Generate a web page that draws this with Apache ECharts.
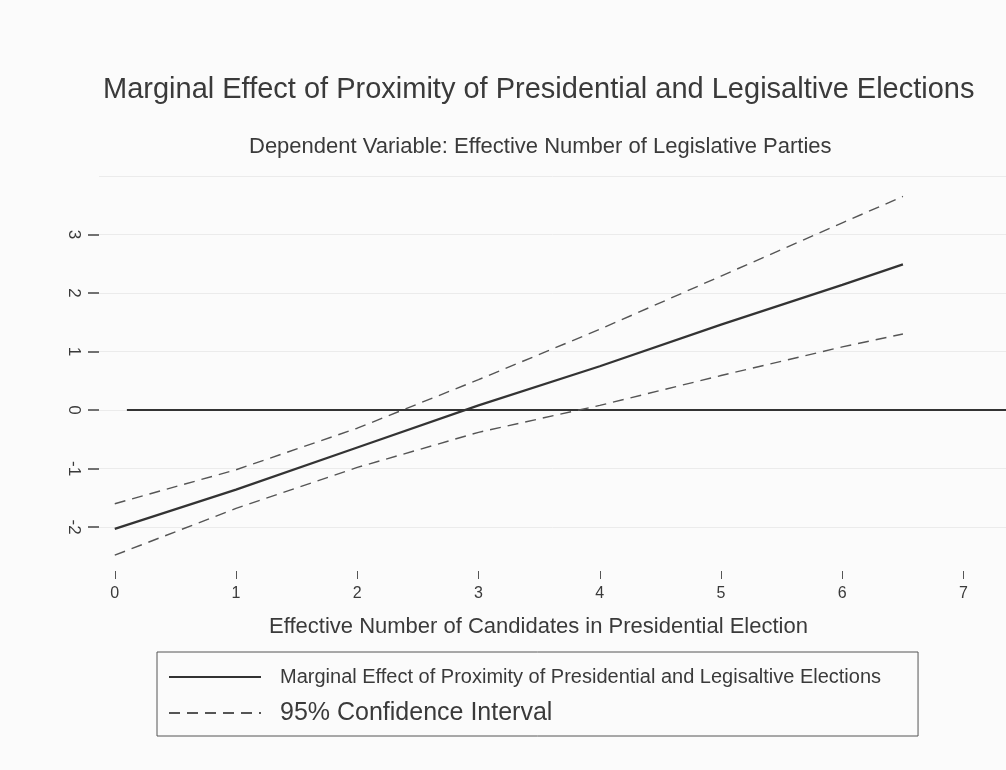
<!DOCTYPE html>
<html>
<head>
<meta charset="utf-8">
<script src="https://cdn.jsdelivr.net/npm/echarts@6/dist/echarts.min.js"></script>
<style>
  html, body { margin: 0; padding: 0; background: #fbfbfb; }
  #chart { width: 1006px; height: 770px; }
</style>
</head>
<body>
<div id="chart"></div>
<script>
// values
var xVals = [0, 1, 2, 3, 4, 5, 6, 6.5];
var effect = [-2.03, -1.36, -0.64, 0.08, 0.75, 1.46, 2.14, 2.49];
var upper = [-1.60, -1.02, -0.31, 0.52, 1.38, 2.29, 3.20, 3.65];
var lower = [-2.48, -1.68, -0.98, -0.38, 0.08, 0.59, 1.08, 1.30];
var zeroX = [0.1, 7.35];
var xTicks = [0, 1, 2, 3, 4, 5, 6, 7];
var yTicks = [-2, -1, 0, 1, 2, 3];
var gridVals = [-2, -1, 0, 1, 2, 3, 4];

var effectName = 'Marginal Effect of Proximity of Presidential and Legisaltive Elections';
var ciName = '95% Confidence Interval';

function pairs(xs, ys) {
  return xs.map(function (x, i) { return [x, ys[i]]; });
}

var chart = echarts.init(document.getElementById('chart'));

var option = {
  animation: false,
  backgroundColor: '#fbfbfb',
  textStyle: { fontFamily: 'Liberation Sans, Arial, sans-serif', color: '#3a3a3a' },
  title: [{
    text: effectName,
    left: 98,
    top: 70,
    textStyle: { fontSize: 29, fontWeight: 'normal', color: '#3a3a3a' }
  }, {
    text: 'Dependent Variable: Effective Number of Legislative Parties',
    left: 244,
    top: 131,
    textStyle: { fontSize: 22, fontWeight: 'normal', color: '#3a3a3a' }
  }],
  grid: { left: 99, right: 0, top: 176, bottom: 199 },
  legend: {
    orient: 'vertical',
    left: 157,
    top: 652,
    padding: [13, 37, 8, 11],
    itemGap: 9,
    itemWidth: 92,
    itemHeight: 14,
    borderColor: '#555',
    borderWidth: 1,
    borderRadius: 0,
    itemStyle: { opacity: 0 },
    data: [
      { name: effectName, textStyle: { fontSize: 20, lineHeight: 24, padding: [0, 0, 0, 14] } },
      { name: ciName, textStyle: { fontSize: 25, lineHeight: 30, padding: [0, 0, 0, 14] } }
    ],
    textStyle: { color: '#3a3a3a' }
  },
  xAxis: {
    type: 'value',
    min: -0.13,
    max: 7.35,
    name: 'Effective Number of Candidates in Presidential Election',
    nameLocation: 'middle',
    nameGap: 45,
    nameTextStyle: { fontSize: 22, color: '#3a3a3a', padding: [0, 28, 0, 0] },
    axisLine: { show: false, onZero: false },
    axisTick: { show: true, length: 8, customValues: xTicks, lineStyle: { color: '#555' } },
    axisLabel: { customValues: xTicks, fontSize: 16, margin: 15, color: '#3a3a3a' },
    splitLine: { show: false }
  },
  yAxis: {
    type: 'value',
    min: -2.75,
    max: 4,
    axisLine: { show: false, onZero: false },
    axisTick: { show: true, length: 11, customValues: yTicks, lineStyle: { color: '#444', width: 1.5 } },
    axisLabel: { customValues: yTicks, fontSize: 17, margin: 17, rotate: -90, color: '#3a3a3a' },
    splitLine: { show: false }
  },
  series: [
    {
      name: 'grid',
      type: 'line',
      data: [],
      z: 0,
      silent: true,
      markLine: {
        silent: true,
        z: 0,
        symbol: 'none',
        label: { show: false },
        lineStyle: { color: '#ebebeb', width: 1, type: 'solid' },
        data: gridVals.map(function (v) { return { yAxis: v }; })
      }
    },
    {
      name: 'zero',
      type: 'line',
      data: pairs(zeroX, [0, 0]),
      symbol: 'none',
      itemStyle: { color: '#333' },
      lineStyle: { color: '#333', width: 2 },
      z: 2
    },
    {
      name: ciName,
      type: 'line',
      data: pairs(xVals, upper),
      symbol: 'none',
      itemStyle: { color: '#555' },
      lineStyle: { color: '#555', width: 1.4, type: [11, 7] },
      z: 3
    },
    {
      name: ciName,
      type: 'line',
      data: pairs(xVals, lower),
      symbol: 'none',
      itemStyle: { color: '#555' },
      lineStyle: { color: '#555', width: 1.4, type: [11, 7] },
      z: 3
    },
    {
      name: effectName,
      type: 'line',
      data: pairs(xVals, effect),
      symbol: 'none',
      itemStyle: { color: '#333' },
      lineStyle: { color: '#333', width: 2.2 },
      z: 4
    }
  ]
};

chart.setOption(option);
</script>
</body>
</html>
